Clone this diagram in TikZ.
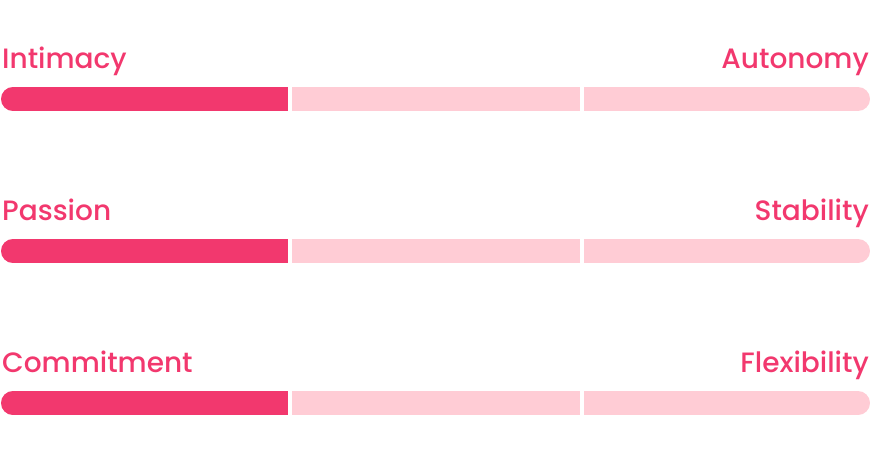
\documentclass[tikz,border=0pt]{standalone}
\usepackage{fontspec}
\setmainfont{Poppins}[UprightFont=* Medium]
\usepackage{xcolor}
\definecolor{barpink}{HTML}{F2386E}
\definecolor{trackpink}{HTML}{FFCCD5}

\begin{document}
\begin{tikzpicture}[x=1pt, y=-1pt,
    label/.style={text=barpink, font=\fontsize{28}{32}\selectfont, inner sep=0pt},
    gapline/.style={white, line width=4pt}]
        \useasboundingbox (0,0) rectangle (871,455);

        \node[label, anchor=base west] (intimacy)   at (2,68)  {Intimacy};
        \node[label, anchor=base east] (autonomy)   at (869,68)  {Autonomy};
        \node[label, anchor=base west] (passion)    at (2,220) {Passion};
        \node[label, anchor=base east] (stability)  at (869,220) {Stability};
        \node[label, anchor=base west] (commitment) at (2,372) {Commitment};
        \node[label, anchor=base east] (flexibility) at (869,372) {Flexibility};

        \begin{scope}
            \clip[rounded corners=12pt] (1,87) rectangle (870,111);
            \fill[trackpink] (1,87) rectangle (870,111);
            \fill[barpink] (1,87) rectangle (290,111);
            \draw[gapline] (290.3,87) -- (290.3,111);
            \draw[gapline] (581.7,87) -- (581.7,111);
        \end{scope}

        \begin{scope}
            \clip[rounded corners=12pt] (1,239) rectangle (870,263);
            \fill[trackpink] (1,239) rectangle (870,263);
            \fill[barpink] (1,239) rectangle (290,263);
            \draw[gapline] (290.3,239) -- (290.3,263);
            \draw[gapline] (581.7,239) -- (581.7,263);
        \end{scope}

        \begin{scope}
            \clip[rounded corners=12pt] (1,391) rectangle (870,415);
            \fill[trackpink] (1,391) rectangle (870,415);
            \fill[barpink] (1,391) rectangle (290,415);
            \draw[gapline] (290.3,391) -- (290.3,415);
            \draw[gapline] (581.7,391) -- (581.7,415);
        \end{scope}
    \end{tikzpicture}
\end{document}
